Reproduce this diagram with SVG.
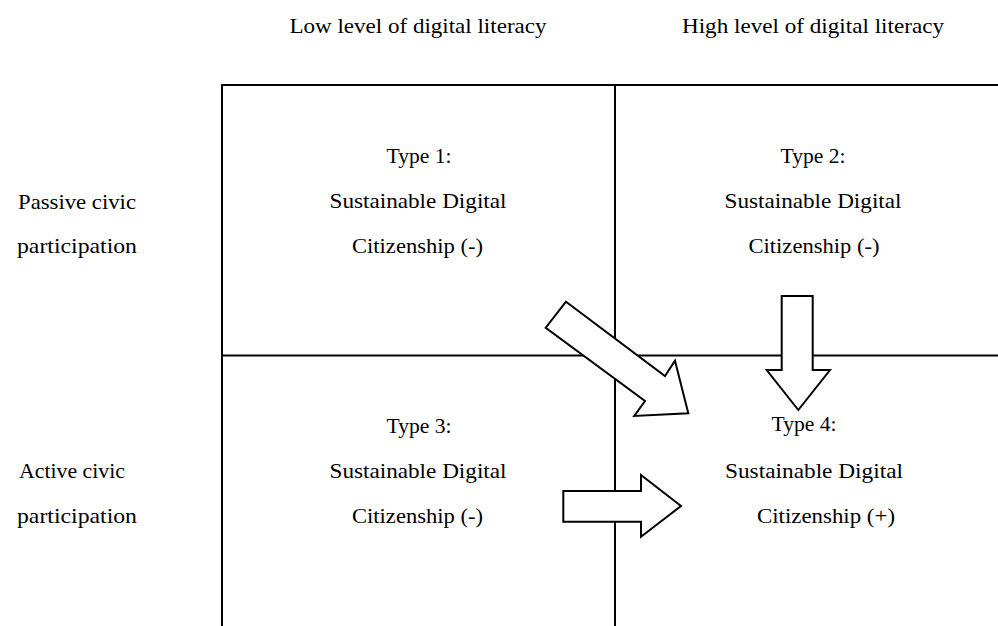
<svg xmlns="http://www.w3.org/2000/svg" width="998" height="626" viewBox="0 0 998 626">
<style>
text{font-family:"Liberation Serif","Times New Roman",serif;font-size:22px;fill:#000}
.c{text-anchor:middle}
.grid{stroke:#000;stroke-width:2;fill:none}
.arrow{fill:#fff;stroke:#000;stroke-width:2;stroke-linejoin:miter}
</style>
<rect width="998" height="626" fill="#fff"/>
<g id="headers">
<text class="c" x="418" y="33" textLength="257" lengthAdjust="spacingAndGlyphs">Low level of digital literacy</text>
<text class="c" x="813" y="33" textLength="262" lengthAdjust="spacingAndGlyphs">High level of digital literacy</text>
</g>
<g id="rows">
<text x="18" y="209" textLength="118" lengthAdjust="spacingAndGlyphs">Passive civic</text>
<text x="17" y="253" textLength="120" lengthAdjust="spacingAndGlyphs">participation</text>
<text x="19" y="478" textLength="106" lengthAdjust="spacingAndGlyphs">Active civic</text>
<text x="17" y="523" textLength="120" lengthAdjust="spacingAndGlyphs">participation</text>
</g>
<g id="grid" class="grid">
<line x1="222" y1="85" x2="998" y2="85"/>
<line x1="222" y1="84" x2="222" y2="626"/>
<line x1="615" y1="85" x2="615" y2="626"/>
<line x1="222" y1="355.5" x2="998" y2="355.5"/>
</g>
<g id="type1">
<text class="c" x="419" y="163" textLength="65" lengthAdjust="spacingAndGlyphs">Type 1:</text>
<text class="c" x="418" y="208" textLength="177" lengthAdjust="spacingAndGlyphs">Sustainable Digital</text>
<text class="c" x="417.5" y="253" textLength="131" lengthAdjust="spacingAndGlyphs">Citizenship (-)</text>
</g>
<g id="type2">
<text class="c" x="813" y="163" textLength="65" lengthAdjust="spacingAndGlyphs">Type 2:</text>
<text class="c" x="813" y="208" textLength="177" lengthAdjust="spacingAndGlyphs">Sustainable Digital</text>
<text class="c" x="814" y="253" textLength="131" lengthAdjust="spacingAndGlyphs">Citizenship (-)</text>
</g>
<g id="type3">
<text class="c" x="419" y="433" textLength="65" lengthAdjust="spacingAndGlyphs">Type 3:</text>
<text class="c" x="418" y="478" textLength="177" lengthAdjust="spacingAndGlyphs">Sustainable Digital</text>
<text class="c" x="417.5" y="523" textLength="131" lengthAdjust="spacingAndGlyphs">Citizenship (-)</text>
</g>
<g id="connectors">
<polygon class="arrow" points="566,301.7 665,376 675,360.7 688.3,413.3 634.3,416 645,401 545.7,327.7"/>
<polygon class="arrow" points="781.7,296 812.7,296 812.7,370 830,370 798.3,410 766.7,370 781.7,370"/>
<polygon class="arrow" points="563.3,491 641,491 641,475 681,506 641,536.7 641,521.7 563.3,521.7"/>
</g>
<g id="type4">
<text class="c" x="804" y="431" textLength="65" lengthAdjust="spacingAndGlyphs">Type 4:</text>
<text class="c" x="814" y="478" textLength="178" lengthAdjust="spacingAndGlyphs">Sustainable Digital</text>
<text class="c" x="826" y="523" textLength="138" lengthAdjust="spacingAndGlyphs">Citizenship (+)</text>
</g>
</svg>
